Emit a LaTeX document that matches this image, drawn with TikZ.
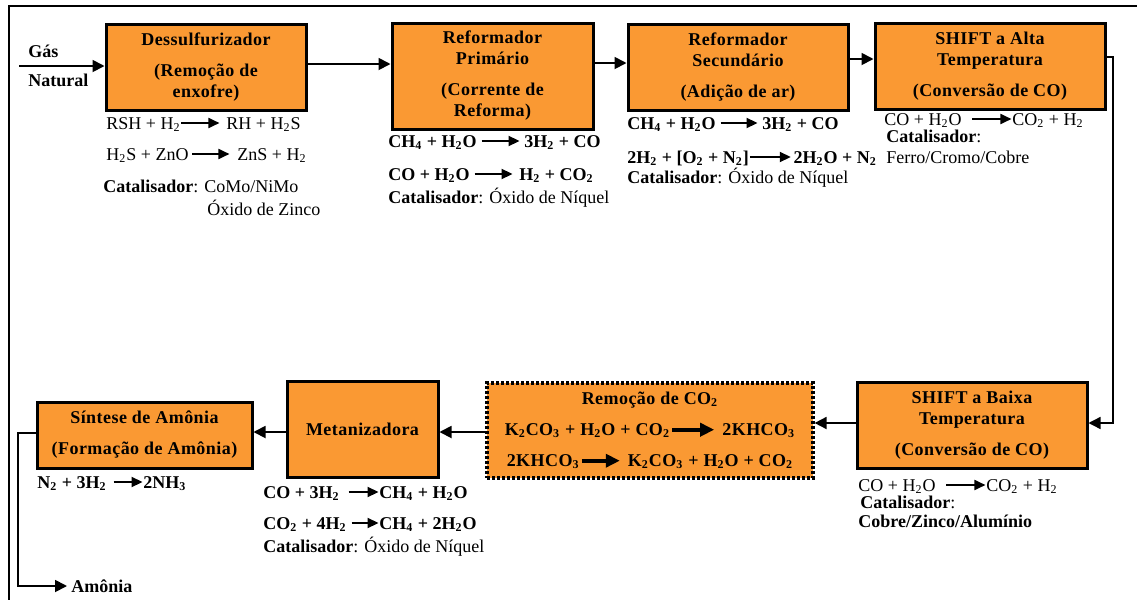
\documentclass[tikz,border=0pt]{standalone}
\usepackage{fontspec}
\setmainfont{Liberation Serif}
\newfontfamily\spacedfont{Liberation Serif}[LetterSpace=2.5]
\usetikzlibrary{arrows.meta}
\definecolor{boxorange}{RGB}{250,153,51}
\newcommand\rx[1]{\tikz[baseline=-3pt,x=1pt,y=1pt]\draw[line width=0.9pt,-{Triangle[length=5.5pt,width=5pt]}](0,0)--(#1,0);}
\newcommand\rxb[1]{\tikz[baseline=-3pt,x=1pt,y=1pt]\draw[line width=2.2pt,-{Triangle[length=7pt,width=6.5pt]}](0,0)--(#1,0);}
\newcommand\sbs[1]{\textsubscript{#1}}
\begin{document}
\begin{tikzpicture}[x=0.5pt,y=-0.5pt,
  proc/.style={draw, line width=1.5pt, fill=boxorange, inner sep=0pt, align=center,
    font=\fontsize{9}{10.5}\selectfont\spacedfont\bfseries},
  dotbox/.style={proc, dash pattern=on 1.5pt off 1pt, line width=1.6pt},
  eq/.style={inner sep=0pt, anchor=base west, font=\fontsize{9}{10.5}\selectfont},
  beq/.style={eq, font=\fontsize{9}{10.5}\selectfont\bfseries},
  flow/.style={line width=0.9pt, -{Triangle[length=6pt,width=6pt]}},
  frameline/.style={line width=1.4pt}]
\useasboundingbox (0,0) rectangle (1137,600);
% frame
\draw[frameline] (9,600) -- (9,6) -- (1137,6);
% process boxes
\node[proc, minimum width=100pt, minimum height=43pt] (b1) at (206,67)
  {Dessulfurizador\\[5pt](Remoção de\\enxofre)};
\node[proc, minimum width=100.5pt, minimum height=53pt] (b2) at (492.5,76)
  {Reformador\\Primário\\[5pt](Corrente de\\Reforma)};
\node[proc, minimum width=110pt, minimum height=43pt] (b3) at (738,67)
  {Reformador\\Secundário\\[5pt](Adição de ar)};
\node[proc, minimum width=115pt, minimum height=43pt] (b4) at (990,66)
  {SHIFT a Alta\\Temperatura\\[5pt](Conversão de CO)};
\node[proc, minimum width=115pt, minimum height=43pt] (b5) at (972,425)
  {SHIFT a Baixa\\Temperatura\\[5pt](Conversão de CO)};
\node[dotbox, minimum width=163pt, minimum height=47.5pt] (b6) at (650,430.5)
  {Remoção de CO\sbs{2}\\[5pt]K\sbs{2}CO\sbs{3} + H\sbs{2}O + CO\sbs{2}\rxb{21}\hspace{3pt}2KHCO\sbs{3}\\[5pt]2KHCO\sbs{3}\rxb{19}\hspace{3pt}K\sbs{2}CO\sbs{3} + H\sbs{2}O + CO\sbs{2}};
\node[proc, minimum width=75.5pt, minimum height=48pt] (b7) at (362.5,429)
  {Metanizadora};
\node[proc, minimum width=107.5pt, minimum height=33pt] (b8) at (144.5,435)
  {Síntese de Amônia\\[5pt](Formação de Amônia)};
% labels
\node[beq] (gas) at (28,57) {Gás};
\node[beq] (nat) at (28,86) {Natural};
\node[beq, anchor=west, inner xsep=2pt] (amo) at (67,586) {Amônia};
% equations
\node[eq] (e1a) at (106,129) {RSH + H\sbs{2}\rx{19}\hspace{3pt}RH + H\sbs{2}S};
\node[eq] (e1b) at (106,160) {H\sbs{2}S + ZnO\hspace{1.5pt}\rx{18.5}\hspace{3.5pt}ZnS + H\sbs{2}};
\node[eq] (e1c) at (103,192) {\textbf{Catalisador}: CoMo/NiMo};
\node[eq] (e1d) at (207,215) {Óxido de Zinco};
\node[beq] (e2a) at (388,147) {CH\sbs{4} + H\sbs{2}O\hspace{2pt}\rx{19}\hspace{2pt}3H\sbs{2} + CO};
\node[beq] (e2b) at (388,180) {CO + H\sbs{2}O\hspace{2pt}\rx{19}\hspace{3pt}H\sbs{2} + CO\sbs{2}};
\node[eq] (e2c) at (388,203) {\textbf{Catalisador}: Óxido de Níquel};
\node[beq] (e3a) at (627,129) {CH\sbs{4} + H\sbs{2}O\hspace{2pt}\rx{18.5}\hspace{2pt}3H\sbs{2} + CO};
\node[beq] (e3b) at (627,163) {2H\sbs{2} + [O\sbs{2} + N\sbs{2}]\rx{20.5}\hspace{1pt}2H\sbs{2}O + N\sbs{2}};
\node[eq] (e3c) at (627,183) {\textbf{Catalisador}: Óxido de Níquel};
\node[eq] (e4a) at (884,125) {CO + H\sbs{2}O\hspace{5pt}\rx{19.5}CO\sbs{2} + H\sbs{2}};
\node[eq] (e4b) at (886,142) {\textbf{Catalisador}:};
\node[eq] (e4c) at (886,163) {Ferro/Cromo/Cobre};
\node[eq] (e5a) at (858,491) {CO + H\sbs{2}O\hspace{5pt}\rx{19.5}CO\sbs{2} + H\sbs{2}};
\node[eq] (e5b) at (860,508) {\textbf{Catalisador}:};
\node[eq] (e5c) at (858,527) {\textbf{Cobre/Zinco/Alumínio}};
\node[beq] (e7a) at (263,498) {CO + 3H\sbs{2}\hspace{4pt}\rx{15}CH\sbs{4} + H\sbs{2}O};
\node[beq] (e7b) at (263,529) {CO\sbs{2} + 4H\sbs{2}\hspace{2pt}\rx{13.5}CH\sbs{4} + 2H\sbs{2}O};
\node[eq] (e7c) at (263,552) {\textbf{Catalisador}: Óxido de Níquel};
\node[beq] (e8) at (37,488) {N\sbs{2} + 3H\sbs{2}\hspace{3pt}\rx{14.5}2NH\sbs{3}};
% helper coordinates
\coordinate (gin) at (19,66);
\coordinate (c1) at (1113,423);
\coordinate (c2) at (18,586);
% connectors
\draw[flow] (gin) -- ([yshift=0.5pt]b1.west);
\draw[flow] ([yshift=1.5pt]b1.east) -- ([yshift=6pt]b2.west);
\draw[flow] ([yshift=6.5pt]b2.east) -- ([yshift=2pt]b3.west);
\draw[flow] ([yshift=4pt]b3.east) -- ([yshift=3.5pt]b4.west);
\draw[flow, line width=0.7pt] ([yshift=4.5pt]b4.east) -| (c1) -- ([yshift=1pt]b5.east);
\draw[flow] ([yshift=1pt]b5.west) -- ([yshift=3.75pt]b6.east);
\draw[flow] ([yshift=-0.75pt]b6.west) -- ([yshift=-1.5pt]b7.east);
\draw[flow] ([yshift=-1.5pt]b7.west) -- ([yshift=1.5pt]b8.east);
\draw[flow] ([yshift=1pt]b8.west) -| (c2) -- (amo.west);
\end{tikzpicture}
\end{document}
